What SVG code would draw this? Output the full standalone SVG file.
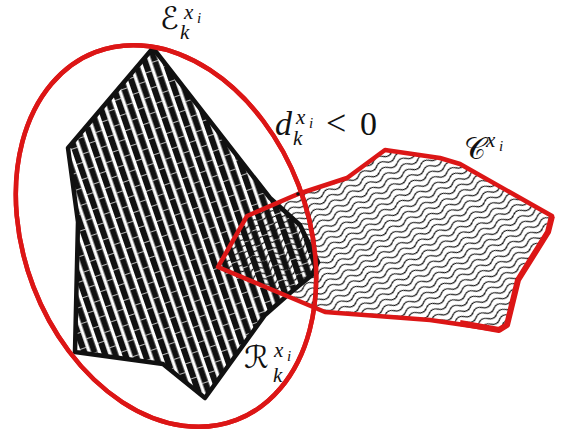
<svg xmlns="http://www.w3.org/2000/svg" width="569" height="436" viewBox="0 0 569 436">
<style>
.red{fill:none;stroke:#dc1616;stroke-width:4.5;stroke-linejoin:round}
.blk{stroke:#111;stroke-width:4.5;stroke-linejoin:round}
.m{font-family:"Liberation Serif","DejaVu Serif",serif;font-style:italic;fill:#111}
.s{font-family:"DejaVu Sans","Noto Sans",sans-serif;font-style:normal;fill:#111}
.r{font-family:"Liberation Serif","DejaVu Serif",serif;fill:#111}
</style>
<defs>
<pattern id="stripes" patternUnits="userSpaceOnUse" width="19" height="16" patternTransform="rotate(-19)">
<rect x="0" y="0" width="19" height="16" fill="#fff"/>
<rect x="0" y="0" width="6.2" height="16" fill="#111"/>
<rect x="9.5" y="0" width="6.2" height="16" fill="#111"/>
<rect x="0" y="4" width="6.2" height="0.7" fill="#fff"/>
<rect x="9.5" y="12" width="6.2" height="0.7" fill="#fff"/>
</pattern>
<pattern id="waves" patternUnits="userSpaceOnUse" width="20" height="6.2" patternTransform="rotate(-27)">
<path d="M0,3.1 C3.3,0.3 6.7,0.3 10,3.1 S16.7,5.9 20,3.1" fill="none" stroke="#111" stroke-width="1.2"/>
</pattern>
</defs>
<rect width="569" height="436" fill="#fff"/>
<g id="ellipse-E">
<ellipse cx="166" cy="236" rx="142" ry="197" transform="rotate(-21 166 236)" class="red"/>
</g>
<g id="region-R">
<path d="M153,48 L270,198 L300,225 L318,262 L312,275 L290,293 L265,315 L205,398 L163,364 L75,352 L78,222 L68,148 Z" fill="url(#stripes)" class="blk"/>
</g>
<g id="region-C">
<path d="M218,267 L247,216 L298,194 L347,178 L385,150 L440,158 L460,164 L552,216 L548,232 L518,280 L507,325 L499,330 L430,320 L325,312 Z" fill="url(#waves)"/>
<ellipse cx="166" cy="236" rx="142" ry="197" transform="rotate(-21 166 236)" class="red"/>
<path d="M218,267 L247,216 L298,194 L347,178 L385,150 L440,158 L460,164 L552,216 L548,232 L518,280 L507,325 L499,330 L430,320 L325,312 Z" class="red"/>
<path d="M552,216 L548,232 L518,280 L507,325 L499,330 L460,323" fill="none" stroke="#dc1616" stroke-width="6" stroke-linejoin="round"/>
<circle cx="298" cy="194" r="1.8" fill="#111"/>
</g>
<g id="connectors"></g>
<g id="labels">
<text class="s" x="160" y="29" font-size="31">ℰ</text>
<text class="m" x="184" y="19" font-size="21">x</text>
<text class="m" x="197" y="23" font-size="15">i</text>
<text class="m" x="180" y="39" font-size="21">k</text>
<text class="m" x="275" y="135" font-size="34">d</text>
<text class="m" x="296" y="124" font-size="21">x</text>
<text class="m" x="309" y="128" font-size="15">i</text>
<text class="m" x="293" y="145" font-size="21">k</text>
<text class="r" x="326" y="135" font-size="36">&lt;</text>
<text class="r" x="360" y="135" font-size="34">0</text>
<text class="s" x="464" y="159" font-size="30">𝒞</text>
<text class="m" x="486" y="147" font-size="21">x</text>
<text class="m" x="499" y="151" font-size="15">i</text>
<text class="s" x="244" y="368" font-size="31">ℛ</text>
<text class="m" x="274" y="357" font-size="21">x</text>
<text class="m" x="287" y="361" font-size="15">i</text>
<text class="m" x="273" y="382" font-size="21">k</text>
</g>
</svg>
